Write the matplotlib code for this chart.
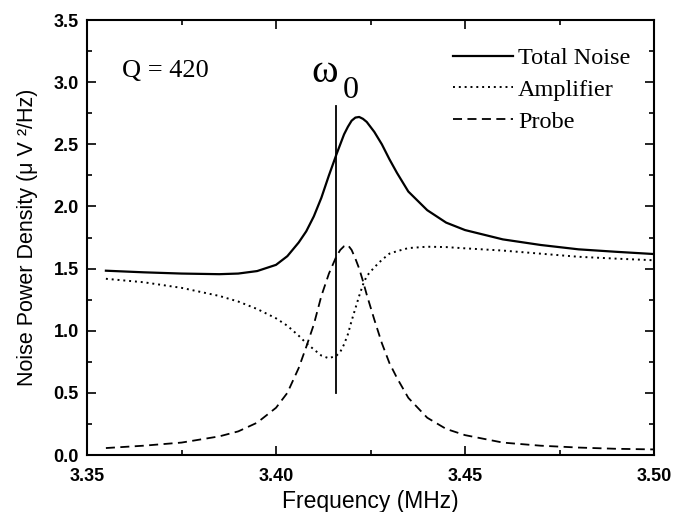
import matplotlib.pyplot as plt
from matplotlib.ticker import MultipleLocator

# frequency grid (MHz)
freq = [3.355, 3.365, 3.375, 3.385, 3.390, 3.395, 3.400, 3.403, 3.406, 3.408,
        3.410, 3.412, 3.414, 3.416, 3.417, 3.418, 3.419, 3.420, 3.421, 3.422,
        3.423, 3.424, 3.426, 3.428, 3.430, 3.432, 3.435, 3.440, 3.445, 3.450,
        3.460, 3.470, 3.480, 3.490, 3.500]

total_noise = [1.483, 1.47, 1.46, 1.455, 1.46, 1.48, 1.53, 1.60, 1.71, 1.80,
               1.92, 2.07, 2.25, 2.42, 2.50, 2.58, 2.64, 2.69, 2.715, 2.72,
               2.705, 2.68, 2.60, 2.50, 2.38, 2.27, 2.12, 1.97, 1.87, 1.81,
               1.735, 1.69, 1.655, 1.635, 1.617]

amplifier = [1.418, 1.39, 1.345, 1.28, 1.235, 1.175, 1.10, 1.04, 0.96, 0.90,
             0.85, 0.80, 0.778, 0.80, 0.83, 0.89, 0.97, 1.08, 1.18, 1.28,
             1.37, 1.44, 1.51, 1.57, 1.62, 1.64, 1.665, 1.676, 1.673, 1.663,
             1.645, 1.62, 1.595, 1.58, 1.567]

probe = [0.056, 0.075, 0.10, 0.15, 0.19, 0.26, 0.38, 0.50, 0.70, 0.87,
         1.05, 1.28, 1.46, 1.60, 1.65, 1.68, 1.69, 1.65, 1.58, 1.50,
         1.40, 1.29, 1.09, 0.90, 0.74, 0.62, 0.46, 0.30, 0.21, 0.16,
         0.10, 0.075, 0.06, 0.05, 0.045]

# resonance marker
omega0 = 3.4159
omega0_span = [0.50, 2.81]

serif = 'Liberation Serif'
sans = 'Liberation Sans'

fig = plt.figure(figsize=(6.76, 5.12), dpi=100)
ax = fig.add_axes([0.1287, 0.1113, 0.8388, 0.8496])

ax.plot(freq, total_noise, color='black', lw=1.6, ls='-', label='Total Noise')
ax.plot(freq, amplifier, color='black', lw=1.4, ls=(0, (1, 2)), label='Amplifier')
ax.plot(freq, probe, color='black', lw=1.3, ls=(0, (5, 3)), label='Probe')
ax.plot([omega0, omega0], omega0_span, color='black', lw=1.3)

ax.set_xlim(3.35, 3.50)
ax.set_ylim(0, 3.5)
ax.xaxis.set_minor_locator(MultipleLocator(0.025))
ax.yaxis.set_minor_locator(MultipleLocator(0.25))
ax.set_xticks([3.35, 3.40, 3.45, 3.50])
ax.set_xticklabels(['3.35', '3.40', '3.45', '3.50'])
ax.set_yticks([0.0, 0.5, 1.0, 1.5, 2.0, 2.5, 3.0, 3.5])
ax.set_yticklabels(['0.0', '0.5', '1.0', '1.5', '2.0', '2.5', '3.0', '3.5'])

ax.tick_params(which='both', direction='in', top=True, right=True, width=1.2)
ax.tick_params(which='major', length=6.5)
ax.tick_params(which='minor', length=3.5)
ax.tick_params(axis='x', pad=9)
ax.tick_params(axis='y', pad=6)
for lbl in ax.get_xticklabels() + ax.get_yticklabels():
    lbl.set_fontfamily(sans)
    lbl.set_fontweight('bold')
    lbl.set_fontsize(13)
for s in ax.spines.values():
    s.set_linewidth(1.5)

ax.set_xlabel('Frequency (MHz)', fontfamily=sans, fontsize=16.5, labelpad=4)
ax.set_ylabel('Noise Power Density (\u03bc V \u00b2/Hz)', fontfamily=sans, fontsize=15.5, labelpad=11)

ax.text(0.062, 0.868, 'Q = 420', transform=ax.transAxes, fontfamily=serif, fontsize=19)
ax.text(0.396, 0.858, '\u03c9', transform=ax.transAxes, fontfamily=serif, fontsize=29)
ax.text(0.451, 0.82, '0', transform=ax.transAxes, fontfamily=serif, fontsize=23)

leg = ax.legend(loc='upper right', bbox_to_anchor=(0.995, 0.985), frameon=False,
                prop={'family': serif, 'size': 17.5}, handlelength=2.5,
                handletextpad=0.2, labelspacing=0.4, borderaxespad=0.45)

fig.savefig('out.png', dpi=100)
